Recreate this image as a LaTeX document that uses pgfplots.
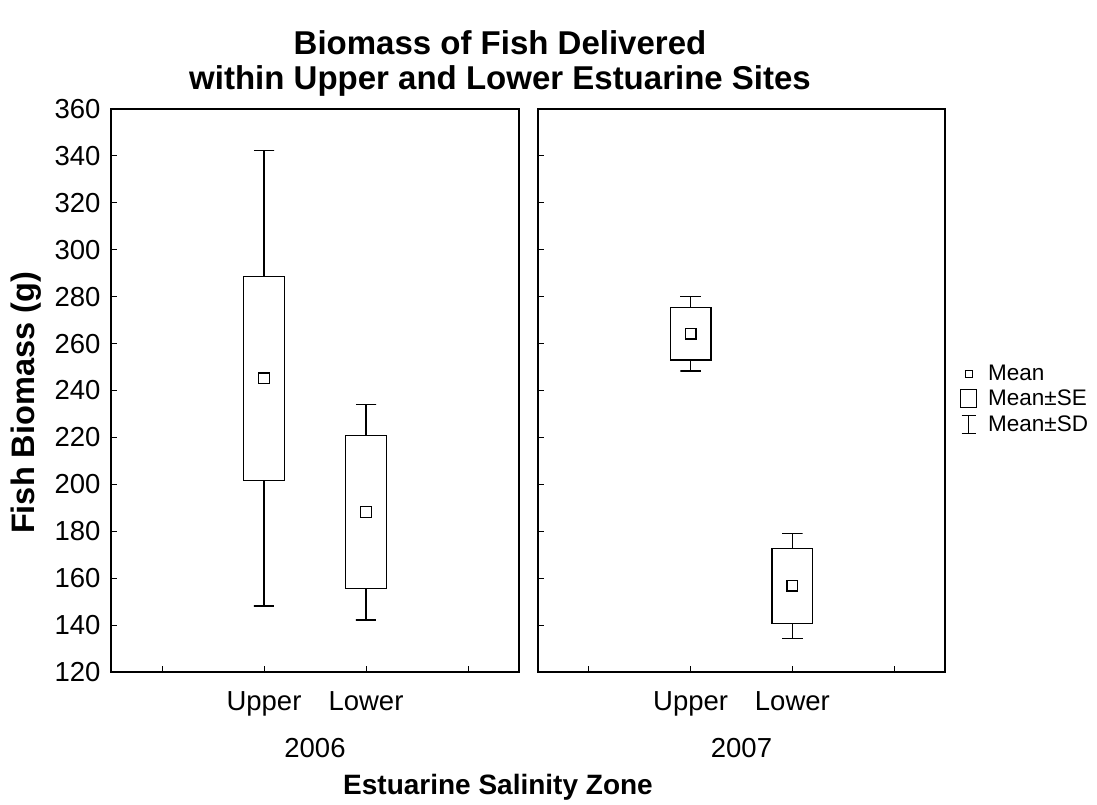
\documentclass[border=0pt]{standalone}
\usepackage{pgfplots}
\pgfplotsset{compat=1.18}
\usepackage{fontspec}
\setmainfont{Liberation Sans}

\pgfplotsset{
 panel/.style={
  scale only axis, width=408pt, height=563pt,
  xmin=0, xmax=4, ymin=120, ymax=360,
  xtick={0.5,1.5,2.5,3.5}, xticklabels={,Upper,Lower,},
  ytick={120,140,...,360},
  tick align=inside, major tick length=6pt,
  xtick pos=bottom, ytick pos=left,
  tick style={black, line width=1pt},
  tick label style={font=\fontsize{27.5}{30}\selectfont},
  xticklabel style={yshift=-16pt},
  yticklabel style={xshift=-7pt},
  /pgf/number format/assume math mode=true,
  axis line style={line width=1.3pt},
  clip=false,
 },
 wh/.style={black, line width=1.2pt, mark=none, forget plot},
 bx/.style={black, line width=1.2pt, fill=white, mark=none, forget plot},
 mn/.style={only marks, mark=square, mark size=5.3pt, black, mark options={line width=1.2pt}, forget plot},
}

\begin{document}
\begin{tikzpicture}
\useasboundingbox (0pt,0pt) rectangle (1097pt,805pt);
\begin{axis}[panel, at={(111pt,133pt)}, anchor=south west,
  xlabel={2006}, xlabel style={font=\fontsize{27.5}{30}\selectfont, at={(axis description cs:0.5,0)}, anchor=center, yshift=-76pt}]
% Upper 2006: mean 245.2, SE 43.5, SD 97.1
\addplot[wh] coordinates {(1.4,342.3) (1.6,342.3) (1.5,342.3) (1.5,148.1) (1.4,148.1) (1.6,148.1)};
\addplot[bx] coordinates {(1.3,201.7) (1.7,201.7) (1.7,288.7) (1.3,288.7)} -- cycle;
% Lower 2006: mean 188.2, SE 32.6, SD 46.0
\addplot[wh] coordinates {(2.4,234.2) (2.6,234.2) (2.5,234.2) (2.5,142.2) (2.4,142.2) (2.6,142.2)};
\addplot[bx] coordinates {(2.3,155.6) (2.7,155.6) (2.7,220.8) (2.3,220.8)} -- cycle;
\addplot[mn] coordinates {(1.5,245.2) (2.5,188.2)};
\end{axis}
\begin{axis}[panel, at={(538pt,133pt)}, anchor=south west, width=407pt, yticklabels={},
  xlabel={2007}, xlabel style={font=\fontsize{27.5}{30}\selectfont, at={(axis description cs:0.5,0)}, anchor=center, yshift=-76pt},
  legend style={at={(axis description cs:1,0.485)}, anchor=west, xshift=15pt, draw=none, fill=none,
    font=\fontsize{22.5}{25}\selectfont, row sep=6pt, column sep=10pt, inner sep=0pt, nodes={inner sep=1pt, anchor=west}},
  legend cell align=left]
% Upper 2007: mean 264.2, SE 11.2, SD 15.9
\addplot[wh] coordinates {(1.4,280.1) (1.6,280.1) (1.5,280.1) (1.5,248.3) (1.4,248.3) (1.6,248.3)};
\addplot[bx] coordinates {(1.3,253.0) (1.7,253.0) (1.7,275.4) (1.3,275.4)} -- cycle;
% Lower 2007: mean 156.8, SE 16.0, SD 22.4
\addplot[wh] coordinates {(2.4,179.2) (2.6,179.2) (2.5,179.2) (2.5,134.4) (2.4,134.4) (2.6,134.4)};
\addplot[bx] coordinates {(2.3,140.8) (2.7,140.8) (2.7,172.8) (2.3,172.8)} -- cycle;
\addplot[mn] coordinates {(1.5,264.2) (2.5,156.8)};
\addlegendimage{legend image code/.code={\draw[line width=1pt] (5pt,-3.5pt) rectangle (12pt,3.5pt);}}
\addlegendentry{Mean}
\addlegendimage{legend image code/.code={\draw[line width=1pt] (0pt,-9pt) rectangle (16pt,9pt);}}
\addlegendentry{Mean±SE}
\addlegendimage{legend image code/.code={\draw[line width=1pt] (1pt,-9pt)--(15pt,-9pt) (8pt,-9pt)--(8pt,9pt) (1pt,9pt)--(15pt,9pt);}}
\addlegendentry{Mean±SD}
\end{axis}
\node[font=\bfseries\fontsize{33}{35}\selectfont, align=center] at (500pt,742pt) {Biomass of Fish Delivered\\within Upper and Lower Estuarine Sites};
\node[font=\bfseries\fontsize{28}{30}\selectfont] at (498pt,18pt) {Estuarine Salinity Zone};
\node[font=\bfseries\fontsize{32.5}{35}\selectfont, rotate=90] at (26pt,402pt) {Fish Biomass (g)};
\end{tikzpicture}
\end{document}
